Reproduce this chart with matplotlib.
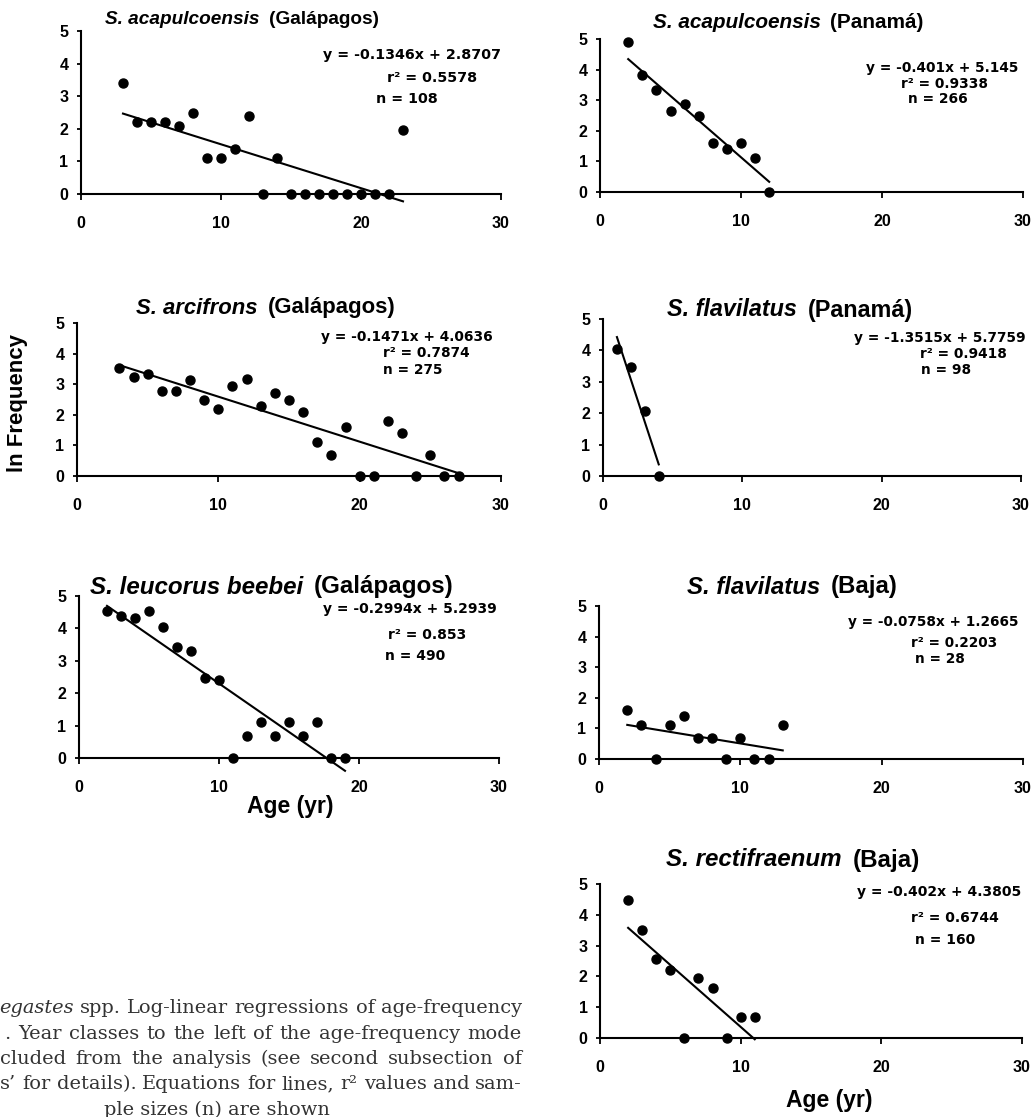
import matplotlib
matplotlib.use("Agg")
import matplotlib.pyplot as plt

W, H = 1034, 1117
SANS = "Liberation Sans"
WIDE = "DejaVu Sans"
SERIF = "DejaVu Serif"
CAPTION_COLOR = "#333333"

plt.rcParams["font.family"] = [SANS, "DejaVu Sans"]
plt.rcParams["font.weight"] = "bold"

# ---- values: age (yr) and ln frequency ----
acap_gal_age = [3, 4, 5, 6, 7, 8, 9, 10, 11, 12, 13, 14, 15, 16, 17, 18, 19, 20, 21, 22, 23]
acap_gal_lnf = [3.40, 2.20, 2.20, 2.20, 2.08, 2.48, 1.10, 1.10, 1.39, 2.40, 0, 1.10,
                0, 0, 0, 0, 0, 0, 0, 0, 1.95]

acap_pan_age = [2, 3, 4, 5, 6, 7, 8, 9, 10, 11, 12]
acap_pan_lnf = [4.89, 3.81, 3.33, 2.64, 2.89, 2.48, 1.61, 1.39, 1.61, 1.10, 0]

arci_gal_age = [3, 4, 5, 6, 7, 8, 9, 10, 11, 12, 13, 14, 15, 16, 17, 18, 19, 20, 21,
                22, 23, 24, 25, 26, 27]
arci_gal_lnf = [3.53, 3.22, 3.33, 2.77, 2.77, 3.14, 2.48, 2.20, 2.94, 3.18, 2.30, 2.71,
                2.48, 2.08, 1.10, 0.69, 1.61, 0, 0, 1.79, 1.39, 0, 0.69, 0, 0]

flav_pan_age = [1, 2, 3, 4]
flav_pan_lnf = [4.04, 3.47, 2.08, 0]

leuc_gal_age = [2, 3, 4, 5, 6, 7, 8, 9, 10, 11, 12, 13, 14, 15, 16, 17, 18, 19]
leuc_gal_lnf = [4.54, 4.37, 4.31, 4.54, 4.04, 3.44, 3.30, 2.48, 2.40, 0, 0.69, 1.10,
                0.69, 1.10, 0.69, 1.10, 0, 0]

flav_baja_age = [2, 3, 4, 5, 6, 7, 8, 9, 10, 11, 12, 13]
flav_baja_lnf = [1.61, 1.10, 0, 1.10, 1.39, 0.69, 0.69, 0, 0.69, 0, 0, 1.10]

rect_baja_age = [2, 3, 4, 5, 6, 7, 8, 9, 10, 11]
rect_baja_lnf = [4.48, 3.50, 2.56, 2.20, 0, 1.95, 1.61, 0, 0.69, 0.69]

# regression results printed on each panel
slopes = [-0.1346, -0.401, -0.1471, -1.3515, -0.2994, -0.0758, -0.402]
intercepts = [2.8707, 5.145, 4.0636, 5.7759, 5.2939, 1.2665, 4.3805]
r_squared = ["0.5578", "0.9338", "0.7874", "0.9418", "0.853", "0.2203", "0.6744"]
sample_sizes = [108, 266, 275, 98, 490, 28, 160]

species = ["S. acapulcoensis", "S. acapulcoensis", "S. arcifrons", "S. flavilatus",
           "S. leucorus beebei", "S. flavilatus", "S. rectifraenum"]
sites = ["(Galápagos)", "(Panamá)", "(Galápagos)", "(Panamá)", "(Galápagos)",
         "(Baja)", "(Baja)"]

ages = [acap_gal_age, acap_pan_age, arci_gal_age, flav_pan_age, leuc_gal_age,
        flav_baja_age, rect_baja_age]
lnfs = [acap_gal_lnf, acap_pan_lnf, arci_gal_lnf, flav_pan_lnf, leuc_gal_lnf,
        flav_baja_lnf, rect_baja_lnf]

# layout in pixels: axes box (left, right, y of 0, y of 5), title (centre x, y, width),
# equation (left x, right x, centre y), r2 / n (left x, centre y)
boxes = [(81, 501, 194, 31), (600, 1023, 192, 39), (77, 501, 476, 323),
         (603, 1021, 476, 319), (79, 499, 758, 596), (599, 1023, 759, 606),
         (600, 1022, 1038, 884)]
titles = [(242, 20, 272), (788, 23, 271), (266, 308, 259), (790, 310, 245),
          (272, 587, 362), (792, 587, 210), (793, 860, 253)]
eq_pos = [(323, 502, 55), (866, 1020, 68), (321, 493, 337), (854, 1027, 338),
          (323, 496, 609), (848, 1019, 622), (857, 1021, 892)]
r2_pos = [(387, 78), (901, 84), (383, 353), (920, 354), (388, 635), (911, 643), (911, 918)]
n_pos = [(376, 99), (908, 99), (383, 370), (921, 370), (385, 656), (915, 659), (915, 940)]

caption = [
    ["egastes", "spp.", "Log-linear", "regressions", "of", "age-frequency"],
    [".", "Year", "classes", "to", "the", "left", "of", "the", "age-frequency", "mode"],
    ["cluded", "from", "the", "analysis", "(see", "second", "subsection", "of"],
    ["s\u2019", "for", "details).", "Equations", "for", "lines,", "r\u00b2", "values",
     "and", "sam-"],
]
caption_last = "ple sizes (n) are shown"

fig = plt.figure(figsize=(W / 100, H / 100), dpi=100)
renderer = fig.canvas.get_renderer()


def px(x, y):
    return x / W, 1 - y / H


def width(t):
    return t.get_window_extent(renderer).width


def title_runs(sp, site, cx, cy, target):
    a = fig.text(0, 0, sp, family=SANS, weight="bold", style="italic", fontsize=13, va="center")
    b = fig.text(0, 0, site, family=SANS, weight="bold", fontsize=13, va="center")
    gap = 0.45 * 13 * 100 / 72
    size = 13 * target / (width(a) + width(b) + gap)
    a.set_fontsize(size)
    b.set_fontsize(size)
    gap = 0.45 * size * 100 / 72
    wa, wb = width(a), width(b)
    x0 = cx - (wa + gap + wb) / 2
    a.set_position(px(x0, cy))
    b.set_position(px(x0 + wa + gap, cy))


for i in range(7):
    xl, xr, y0, y5 = boxes[i]
    ax = fig.add_axes([xl / W, 1 - y0 / H, (xr - xl) / W, (y0 - y5) / H])
    ax.set_xlim(0, 30)
    ax.set_ylim(0, 5)
    ax.set_xticks([0, 10, 20, 30])
    ax.set_yticks(range(6))
    ax.patch.set_visible(False)
    for s in ("top", "right"):
        ax.spines[s].set_visible(False)
    for s in ("left", "bottom"):
        ax.spines[s].set_linewidth(1.5)
    ax.tick_params(axis="x", direction="out", length=4.5, width=1.3, pad=11, labelsize=11.5)
    ax.tick_params(axis="y", direction="out", length=3, width=1.3, pad=6, labelsize=11.5)

    ax.plot(ages[i], lnfs[i], "o", color="black", ms=6.5, clip_on=False, zorder=4)
    x_fit = [min(ages[i]), max(ages[i])]
    ax.plot(x_fit, [slopes[i] * x + intercepts[i] for x in x_fit], color="black",
            lw=1.5, clip_on=False, zorder=3)

    title_runs(species[i], sites[i], *titles[i])

    # equation fitted to the width it takes in the figure, r2 and n at the same size
    ex0, ex1, ey = eq_pos[i]
    eq = fig.text(*px(ex0, ey), f"y = {slopes[i]}x + {intercepts[i]}", family=WIDE,
                  weight="bold", fontsize=10, va="center")
    size = 10 * (ex1 - ex0) / width(eq)
    eq.set_fontsize(size)
    fig.text(*px(*r2_pos[i]), f"r\u00b2 = {r_squared[i]}", family=WIDE,
             weight="bold", fontsize=size, va="center")
    fig.text(*px(*n_pos[i]), f"n = {sample_sizes[i]}", family=WIDE,
             weight="bold", fontsize=size, va="center")

fig.text(*px(18, 403), "ln Frequency", rotation=90, fontsize=16, weight="bold",
         ha="center", va="center")
fig.text(*px(290, 806), "Age (yr)", fontsize=16.5, weight="bold", ha="center", va="center")
fig.text(*px(829, 1101), "Age (yr)", fontsize=16.5, weight="bold", ha="center", va="center")

# caption, justified between the column edges
probe = fig.text(0, 0, caption_last, family=SERIF, fontsize=12, weight="normal")
cap_size = 12 * 225 / width(probe)
probe.remove()
cap_y = [1008, 1034, 1059, 1084]
cap_x0 = [-1, 4, 0, 0]
for line, y, x0 in zip(caption, cap_y, cap_x0):
    objs = []
    for k, w in enumerate(line):
        st = "italic" if (y == cap_y[0] and k == 0) else "normal"
        objs.append(fig.text(0, 0, w, family=SERIF, fontsize=cap_size, weight="normal",
                             style=st, color=CAPTION_COLOR, va="center"))
    ws = [width(o) for o in objs]
    gap = (522 - x0 - sum(ws)) / (len(objs) - 1)
    x = x0
    for o, w in zip(objs, ws):
        o.set_position(px(x, y))
        x += w + gap
fig.text(*px(217, 1110), caption_last, family=SERIF, fontsize=cap_size, weight="normal",
         color=CAPTION_COLOR, ha="center", va="center")

fig.savefig("out.png", dpi=100)
